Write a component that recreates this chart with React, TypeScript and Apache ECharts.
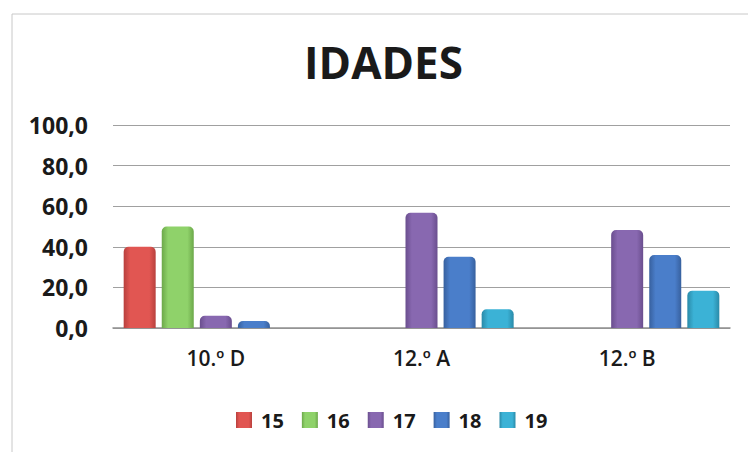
import React, { useEffect, useRef } from "react";
import * as echarts from "echarts";

const categories = ["10.º D", "12.º A", "12.º B"];
const seriesNames = ["15", "16", "17", "18", "19"];
const s15 = [40, 0, 0];
const s16 = [50, 0, 0];
const s17 = [6, 56.8, 48.3];
const s18 = [3.4, 35.1, 36];
const s19 = [0, 9.2, 18.4];
const seriesValues = [s15, s16, s17, s18, s19];
const colors = ["#E15652", "#8FD26A", "#8868B0", "#4A7ECA", "#3BB2D6"];
const borders = ["#B8403D", "#6CA84A", "#6A4E8E", "#37609E", "#2A8AA8"];

export default function App() {
  const ref = useRef<HTMLDivElement>(null);
  useEffect(() => {
    const chart = echarts.init(ref.current!, null, { renderer: "svg" });
    const font = "'Open Sans', sans-serif";
    chart.setOption({
      animation: false,
      backgroundColor: "#ffffff",
      title: {
        text: "IDADES",
        left: 299,
        top: 35,
        textStyle: { fontFamily: font, fontWeight: "bold", fontSize: 44, color: "#1a1a1a" },
      },
      graphic: [
        {
          type: "rect",
          shape: { x: 12, y: 14, width: 760, height: 460 },
          style: { fill: "none", stroke: "#c8c8c8", lineWidth: 1 },
          silent: true,
        },
      ],
      legend: {
        data: seriesNames,
        top: 405,
        left: 231,
        itemWidth: 16,
        itemHeight: 16,
        itemGap: 18,
        icon: "rect",
        textStyle: { fontFamily: font, fontWeight: "bold", fontSize: 20, color: "#1a1a1a", padding: [0, 0, 0, 4] },
      },
      grid: { left: 113, right: 18, top: 125, bottom: 124 },
      xAxis: {
        type: "category",
        data: categories,
        axisTick: { show: false },
        axisLine: { lineStyle: { color: "#909090", width: 1.5 } },
        axisLabel: { fontFamily: font, fontWeight: 600, fontSize: 21, color: "#1a1a1a", margin: 19 },
      },
      yAxis: {
        type: "value",
        min: 0,
        max: 100,
        interval: 20,
        axisLine: { show: false },
        axisTick: { show: false },
        splitLine: { lineStyle: { color: "#a0a0a0", width: 1.2 } },
        axisLabel: {
          fontFamily: font,
          fontWeight: "bold",
          fontSize: 23,
          color: "#1a1a1a",
          margin: 25,
          formatter: (v: number) => v.toFixed(1).replace(".", ","),
        },
      },
      series: seriesNames.map((name, i) => ({
        name,
        type: "bar",
        data: seriesValues[i],
        barWidth: 32,
        barGap: "19%",
        itemStyle: {
          color: new echarts.graphic.LinearGradient(0, 0, 1, 0, [
            { offset: 0, color: borders[i] },
            { offset: 0.2, color: colors[i] },
            { offset: 0.8, color: colors[i] },
            { offset: 1, color: borders[i] },
          ]),
          borderRadius: [5, 5, 0, 0],
        },
      })),
    });
    return () => chart.dispose();
  }, []);
  return <div ref={ref} style={{ width: 748, height: 452, position: "absolute", left: 0, top: 0 }} />;
}
